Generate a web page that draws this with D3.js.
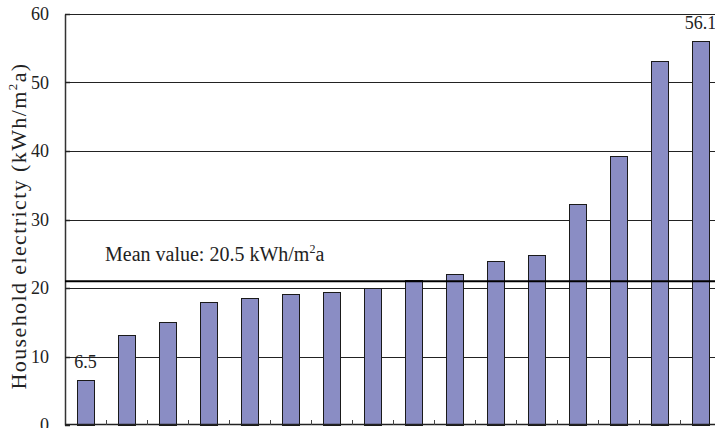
<!DOCTYPE html>
<html>
<head>
<meta charset="utf-8">
<script src="https://cdn.jsdelivr.net/npm/d3@7/dist/d3.min.js"></script>
<style>
  html, body { margin: 0; padding: 0; background: #fff; }
  svg { display: block; }
  text { font-family: "Liberation Serif", "Times New Roman", serif; fill: #222; }
</style>
</head>
<body>
<svg id="chart" width="715" height="428"></svg>
<script>
const categories = ["1","2","3","4","5","6","7","8","9","10","11","12","13","14","15","16"];
const values = [6.5, 13.2, 15.0, 18.0, 18.6, 19.1, 19.4, 20.0, 21.1, 22.0, 24.0, 24.8, 32.2, 39.3, 53.1, 56.1];
const yTicks = [0, 10, 20, 30, 40, 50, 60];
const meanLineValue = 21.0;
const meanLabel = "Mean value: 20.5 kWh/m";
const labelledIndices = [0, 15];

(function () {
const svg = d3.select("#chart");
const mLeft = 65, mRight = 721, mTop = 14, mBottom = 425;

const x = d3.scaleBand().domain(categories).range([mLeft, mRight]).paddingInner(0.585).paddingOuter(0.2925);
const y = d3.scaleLinear().domain([0, 60]).range([mBottom, mTop]);
const step = x.step();
const gap = x.paddingOuter() * step;

// gridlines
svg.append("g").selectAll("line").data(yTicks.filter(d => d > 0)).join("line")
  .attr("x1", mLeft).attr("x2", 715)
  .attr("y1", d => Math.round(y(d)) + 0.5).attr("y2", d => Math.round(y(d)) + 0.5)
  .attr("stroke", "#222").attr("stroke-width", 1);

// y axis
const yAxis = d3.axisLeft(y).tickValues(yTicks).tickSize(0).tickPadding(16);
const gy = svg.append("g").attr("transform", `translate(${mLeft},0)`).call(yAxis);
gy.select(".domain").attr("stroke", "#333").attr("stroke-width", 1.5);
gy.selectAll("text").style("font-size", "18px").style("font-family", "Liberation Serif, serif").attr("fill", "#222");
svg.append("g").selectAll("line").data(yTicks).join("line")
  .attr("x1", mLeft).attr("x2", mLeft + 5)
  .attr("y1", d => Math.round(y(d)) + 0.5).attr("y2", d => Math.round(y(d)) + 0.5)
  .attr("stroke", "#222").attr("stroke-width", 1.5);

// bars
svg.append("g").selectAll("rect").data(values).join("rect")
  .attr("x", (d, i) => Math.round(x(categories[i])) + 0.5)
  .attr("y", d => Math.round(y(d)) + 0.5)
  .attr("width", Math.round(x.bandwidth()))
  .attr("height", d => Math.round(y(0)) - Math.round(y(d)))
  .attr("fill", "#8a8dc4").attr("stroke", "#1a1a1a").attr("stroke-width", 1);

// bottom axis and ticks between categories
svg.append("line").attr("x1", mLeft).attr("x2", 715).attr("y1", mBottom - 0.5).attr("y2", mBottom - 0.5)
  .attr("stroke", "#222").attr("stroke-width", 1.5);
svg.append("g").selectAll("line").data(categories.slice(1)).join("line")
  .attr("x1", d => Math.round(x(d) - gap) + 0.5)
  .attr("x2", d => Math.round(x(d) - gap) + 0.5)
  .attr("y1", mBottom).attr("y2", mBottom - 5)
  .attr("stroke", "#444").attr("stroke-width", 1);

// mean line
svg.append("line").attr("x1", mLeft).attr("x2", 715)
  .attr("y1", y(meanLineValue)).attr("y2", y(meanLineValue))
  .attr("stroke", "#000").attr("stroke-width", 2);
const ml = svg.append("text").attr("x", 105).attr("y", 261).style("font-size", "20px");
ml.append("tspan").text(meanLabel);
ml.append("tspan").text("2").attr("dy", -8).style("font-size", "12px");
ml.append("tspan").text("a").attr("dy", 8);

// value labels
svg.append("g").selectAll("text").data(labelledIndices).join("text")
  .attr("x", i => x(categories[i]) + x.bandwidth() / 2)
  .attr("y", i => y(values[i]) - 12)
  .attr("text-anchor", "middle").style("font-size", "18px")
  .text(i => values[i].toFixed(1));

// y label
const yl = svg.append("text").attr("transform", "translate(26,226) rotate(-90)")
  .attr("text-anchor", "middle").style("font-size", "22px").style("letter-spacing", "1.4px");
yl.append("tspan").text("Household electricty (kWh/m");
yl.append("tspan").text("2").attr("dy", -9).style("font-size", "13px");
yl.append("tspan").text("a)").attr("dy", 9);
})();
</script>
</body>
</html>
